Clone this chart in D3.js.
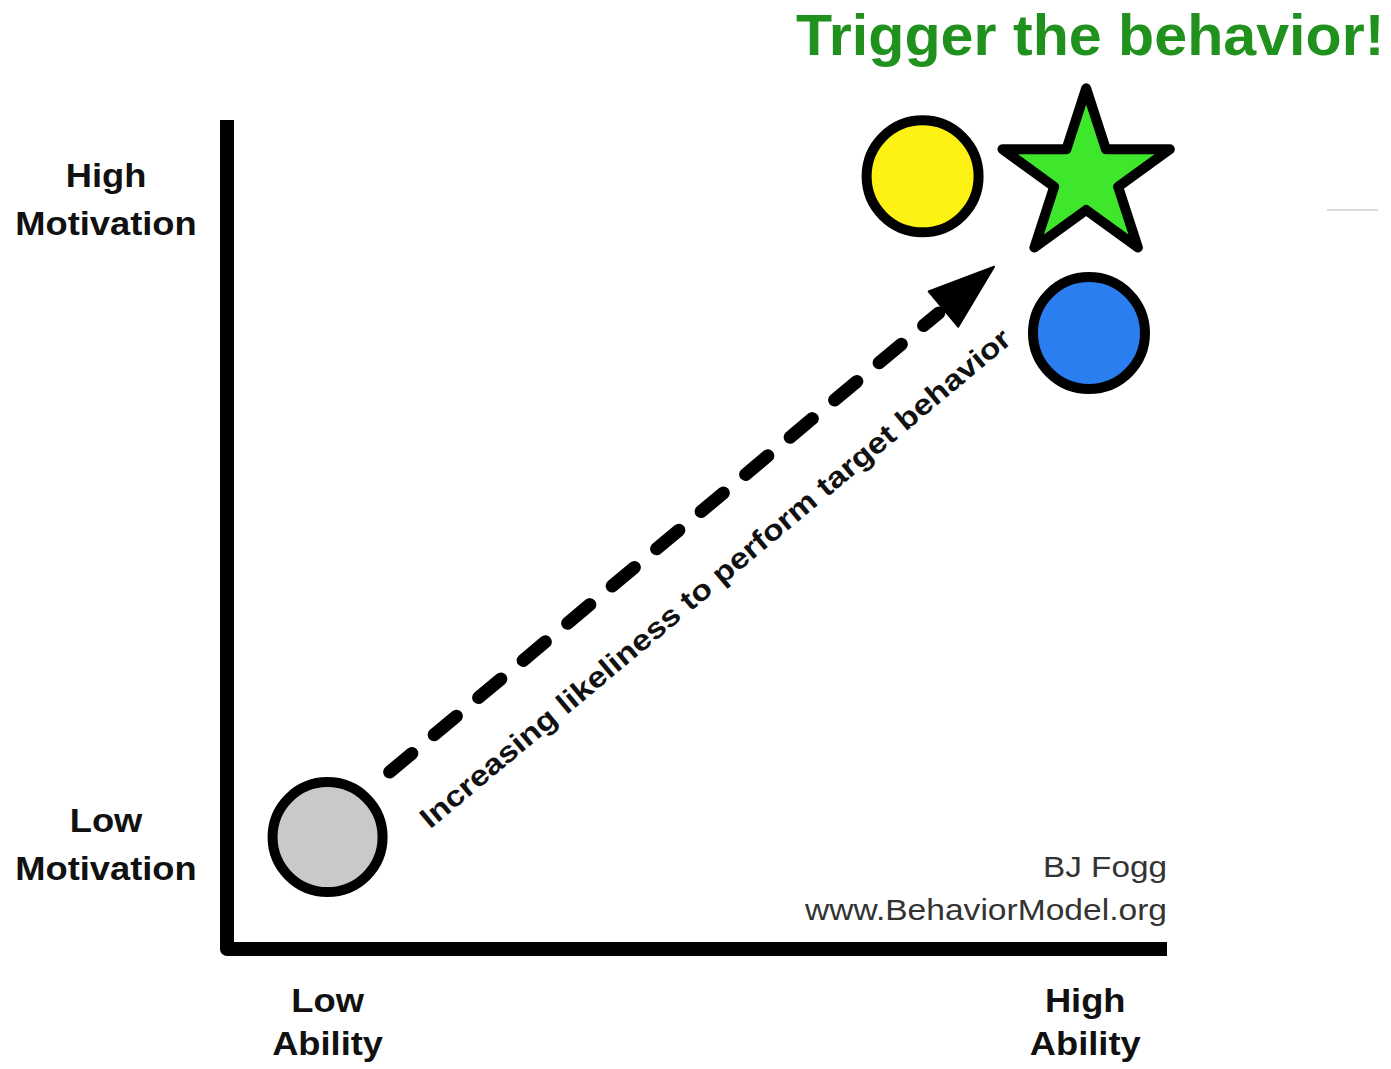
<!DOCTYPE html>
<html>
<head>
<meta charset="utf-8">
<script src="https://cdn.jsdelivr.net/npm/d3@7"></script>
<style>
  html, body { margin: 0; padding: 0; background: #ffffff; }
  svg { display: block; }
</style>
</head>
<body>
<svg id="chart" width="1391" height="1069"></svg>
<script>
// ---------- data ----------
const markNames      = ["Low motivation / low ability", "High motivation", "Trigger", "High ability"];
const markAbility    = [0.107, 0.740, 0.914, 0.917];
const markMotivation = [0.135, 0.932, 0.932, 0.743];
const markShapes     = ["circle", "circle", "star", "circle"];

const arrowAbility    = [0.173, 0.816];   // from, to
const arrowMotivation = [0.2135, 0.823];
const arrowLabel = "Increasing likeliness to perform target behavior";

const yTickValues = [0.128, 0.906];
const yTickLabels = [["Low", "Motivation"], ["High", "Motivation"]];
const xTickValues = [0.107, 0.913];
const xTickLabels = [["Low", "Ability"], ["High", "Ability"]];

const titleText = "Trigger the behavior!";
const creditLines = ["BJ Fogg", "www.BehaviorModel.org"];

// ---------- styles ----------
const fillColors = ["#c9c9c9", "#fdf214", "#3ee62c", "#2a7ef0"];
const FONT = "'Liberation Sans', Arial, Helvetica, sans-serif";

// ---------- scales ----------
const svg = d3.select("#chart");
const x = d3.scaleLinear().domain([0, 1]).range([227, 1167]);
const y = d3.scaleLinear().domain([0, 1]).range([949, 120]);

// faint artifact line at right
svg.append("line")
  .attr("x1", 1327).attr("x2", 1378).attr("y1", 210).attr("y2", 210)
  .attr("stroke", "#dcdcdc").attr("stroke-width", 2);

// ---------- axes ----------
svg.append("path")
  .attr("d", `M${x(0)},${y(1)} V${y(0)} H${x(1)}`)
  .attr("fill", "none")
  .attr("stroke", "#000")
  .attr("stroke-width", 14)
  .attr("stroke-linejoin", "round");

function multiLine(g, lines, cx, baselines, size, sx) {
  lines.forEach((t, i) => {
    g.append("text")
      .attr("transform", `translate(${cx},${baselines[i]}) scale(${sx},1)`)
      .attr("text-anchor", "middle")
      .attr("font-family", FONT)
      .attr("font-weight", "bold")
      .attr("font-size", size)
      .attr("fill", "#111")
      .text(t);
  });
}

const labels = svg.append("g");
yTickValues.forEach((v, i) => {
  const c = y(v);
  multiLine(labels, yTickLabels[i], 106, [c - 10.5, c + 37.5], 33, 1.1);
});
xTickValues.forEach((v, i) => {
  multiLine(labels, xTickLabels[i], x(v), [y(0) + 63, y(0) + 106], 33, 1.1);
});

// ---------- arrow ----------
const p0 = [x(arrowAbility[0]), y(arrowMotivation[0])];
const p1 = [x(arrowAbility[1]), y(arrowMotivation[1])];
const dx = p1[0] - p0[0], dy = p1[1] - p0[1];
const len = Math.hypot(dx, dy);
const ux = dx / len, uy = dy / len;      // along
const nx = -uy, ny = ux;                 // perpendicular (down-right)
const headLen = 66, headHalf = 23;
const base = [p1[0] - ux * headLen, p1[1] - uy * headLen];

svg.append("line")
  .attr("x1", p0[0]).attr("y1", p0[1])
  .attr("x2", base[0] - ux * 6).attr("y2", base[1] - uy * 6)
  .attr("stroke", "#000")
  .attr("stroke-width", 13)
  .attr("stroke-linecap", "round")
  .attr("stroke-dasharray", "29,29");

const head = d3.path();
head.moveTo(p1[0], p1[1]);
head.lineTo(base[0] + nx * headHalf, base[1] + ny * headHalf);
head.lineTo(base[0] - nx * headHalf, base[1] - ny * headHalf);
head.closePath();
svg.append("path").attr("d", head.toString()).attr("fill", "#000")
  .attr("stroke", "#000").attr("stroke-width", 2).attr("stroke-linejoin", "round");

const angle = Math.atan2(dy, dx) * 180 / Math.PI;
const tc = [p0[0] + dx * 0.475 + nx * 60, p0[1] + dy * 0.475 + ny * 60];
svg.append("text")
  .attr("transform", `translate(${tc[0]},${tc[1]}) rotate(${angle})`)
  .attr("text-anchor", "middle")
  .attr("dominant-baseline", "central")
  .attr("font-family", FONT)
  .attr("font-weight", "bold")
  .attr("font-size", 29)
  .attr("fill", "#111")
  .attr("textLength", 760)
  .attr("lengthAdjust", "spacingAndGlyphs")
  .text(arrowLabel);

// ---------- marks ----------
const ka = 0.8908130915292852;
const starR = 88;
const marks = svg.append("g");
markNames.forEach((name, i) => {
  const cx = x(markAbility[i]), cy = y(markMotivation[i]);
  if (markShapes[i] === "circle") {
    marks.append("circle")
      .attr("cx", cx).attr("cy", cy)
      .attr("r", i === 0 ? 55 : 56)
      .attr("fill", fillColors[i])
      .attr("stroke", "#000")
      .attr("stroke-width", 10)
      .append("title").text(name);
  } else {
    marks.append("path")
      .attr("transform", `translate(${cx},${cy})`)
      .attr("d", d3.symbol(d3.symbolStar, starR * starR / ka)())
      .attr("fill", fillColors[i])
      .attr("stroke", "#000")
      .attr("stroke-width", 10)
      .attr("stroke-linejoin", "round")
      .append("title").text(name);
  }
});

// ---------- title ----------
svg.append("text")
  .attr("transform", `translate(${x(markAbility[2]) + 4},55) scale(1.02,1)`)
  .attr("text-anchor", "middle")
  .attr("font-family", FONT)
  .attr("font-weight", "bold")
  .attr("font-size", 58)
  .attr("fill", "#21911e")
  .text(titleText);

// ---------- credit ----------
const creditLengths = [124, 362];
creditLines.forEach((t, i) => {
  svg.append("text")
    .attr("x", x(1)).attr("y", [877, 920][i])
    .attr("text-anchor", "end")
    .attr("font-family", FONT)
    .attr("font-size", 29)
    .attr("fill", "#333")
    .attr("textLength", creditLengths[i])
    .attr("lengthAdjust", "spacingAndGlyphs")
    .text(t);
});
</script>
</body>
</html>
